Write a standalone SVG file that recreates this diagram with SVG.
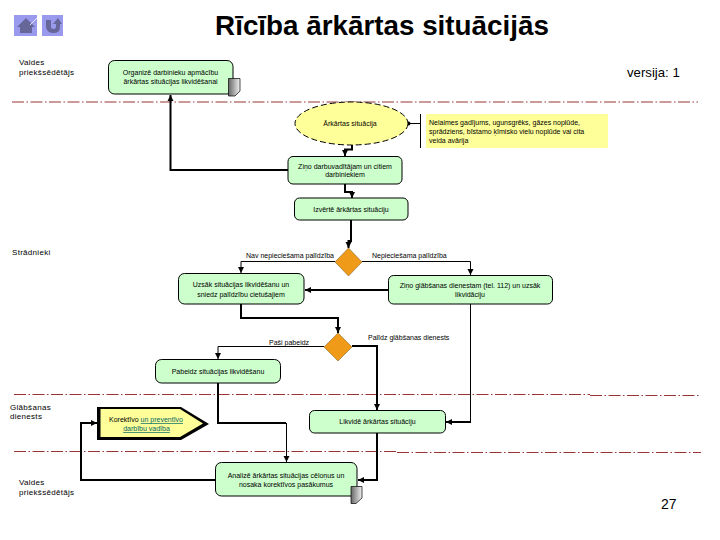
<svg xmlns="http://www.w3.org/2000/svg" width="720" height="540" viewBox="0 0 720 540">
<style>
text{font-family:"Liberation Sans",Arial,sans-serif;fill:#000}
.t{font-size:7px;text-anchor:middle}
.l{font-size:7px}
.s{font-size:8px;letter-spacing:.3px}
.box{fill:#ccffcc;stroke:#000;stroke-width:1}
.sw{fill:none;stroke:#800000;stroke-width:.8;stroke-dasharray:12 2.5 1.5 2.5}
.c1{fill:none;stroke:#000;stroke-width:1}
.c2{fill:none;stroke:#000;stroke-width:2}
.d{fill:#f09a1a;stroke:#8a6a30;stroke-width:.6}
.doc{fill:url(#g);stroke:#000;stroke-width:.7}
.link{fill:#006666;text-decoration:underline}
</style>
<defs>
<marker id="a" markerWidth="7" markerHeight="7" refX="6" refY="3.5" orient="auto" markerUnits="userSpaceOnUse"><path d="M0 .5L6 3.5L0 6.5z" fill="#000"/></marker>
<linearGradient id="g" x1="0" y1="0" x2="1" y2="0"><stop offset="0" stop-color="#666"/><stop offset="1" stop-color="#f2f2f2"/></linearGradient>
</defs>
<text x="382" y="35" font-weight="bold" text-anchor="middle" style="font-size:27.8px">Rīcība ārkārtas situācijās</text>
<g id="nav-home"><rect x="14" y="15" width="23" height="21" fill="#9999ee"/><path d="M17 27L26 18L35 27H32V33H20V27z" fill="#666699"/><path d="M30 25L37 18" stroke="#fff" stroke-width=".8"/></g>
<g id="nav-back"><rect x="42" y="15" width="21" height="21" fill="#9999ee"/><path d="M46 20H51V27Q51 29 53.500 29T56 27V24H53L58 18L62 24H60V27Q60 33 53.500 33T46 27z" fill="#666699"/></g>
<text x="627" y="77" style="font-size:13.200px">versija: 1</text>
<text x="661" y="509" style="font-size:14px">27</text>
<g id="swimlanes">
<path class="sw" d="M12 102H698"/><path class="sw" d="M14 394.500H590"/><path class="sw" d="M590 395.500H701"/><path class="sw" d="M14 451.500H397"/><path class="sw" d="M397 452.500H701"/>
</g>
<g id="lane-labels">
<text class="s" x="19" y="65">Valdes</text><text class="s" x="19" y="75">priekšsēdētājs</text>
<text class="s" x="12" y="255">Strādnieki</text>
<text class="s" x="10" y="410">Glābšanas</text><text class="s" x="10" y="419">dienests</text>
<text class="s" x="19" y="485">Valdes</text><text class="s" x="19" y="495">priekšsēdētājs</text>
</g>
<g id="connectors">
<path class="c2" d="M288 170H170.500V95" marker-end="url(#a)"/>
<path class="c2" d="M352 145V149.500H345V156" marker-end="url(#a)"/>
<path class="c2" d="M345 184V192H352V198" marker-end="url(#a)"/>
<path class="c2" d="M351 220V241H348.500V248" marker-end="url(#a)"/>
<path class="c1" d="M335 261.500H241V273" marker-end="url(#a)"/>
<path class="c1" d="M362 261.500H470.500V275" marker-end="url(#a)"/>
<path class="c2" d="M388 290H305" marker-end="url(#a)"/>
<path class="c2" d="M241 304V318H338V333" marker-end="url(#a)"/>
<path class="c1" d="M324 346.500H218V359" marker-end="url(#a)"/>
<path class="c2" d="M352 346H377V410" marker-end="url(#a)"/>
<path class="c1" d="M470.500 304V422"/>
<path class="c2" d="M471 422H446" marker-end="url(#a)"/>
<path class="c2" d="M218 383V423H286"/>
<path class="c1" d="M286.500 423V462" marker-end="url(#a)"/>
<path class="c2" d="M377 433V480H358" marker-end="url(#a)"/>
<path class="c2" d="M216 480H81V423H97" marker-end="url(#a)"/>
<path class="c1" d="M408 123.500H420.500M420.500 114V148"/>
<circle cx="408.500" cy="123.500" r="2"/>
</g>
<g id="n1"><rect class="box" x="108.500" y="60.500" width="124.500" height="33.500" rx="6"/><text class="t" x="170.500" y="75">Organizē darbinieku apmācību</text><text class="t" x="170.500" y="84">ārkārtas situācijas likvidēšanai</text><path class="doc" d="M228.500 78.500H240V91L235 96H228.500z"/></g>
<g id="n2"><ellipse cx="351.500" cy="123.500" rx="56.500" ry="21.500" fill="#ffff99" stroke="#000" stroke-dasharray="6 3"/><text class="t" x="350" y="126">Ārkārtas situācija</text></g>
<g id="n3"><rect x="426" y="114" width="182" height="34" fill="#ffff99"/><text class="l" x="429" y="125">Nelaimes gadījums, ugunsgrēks, gāzes noplūde,</text><text class="l" x="429" y="134">sprādziens, bīstamo ķīmisko vielu noplūde vai cita</text><text class="l" x="429" y="142.500">veida avārija</text></g>
<g id="n4"><rect class="box" x="288" y="156.500" width="114" height="27.500" rx="5"/><text class="t" x="345" y="169">Ziņo darbuvadītājam un citiem</text><text class="t" x="345" y="177">darbiniekiem</text></g>
<g id="n5"><rect class="box" x="294.500" y="198" width="113.500" height="22" rx="5"/><text class="t" x="351" y="211.500">Izvērtē ārkārtas situāciju</text></g>
<text class="l" x="246" y="258">Nav nepieciešama palīdzība</text>
<g id="d1"><path class="d" d="M348.500 248L362 262L348.500 276L335 262z"/></g>
<text class="l" x="372" y="258">Nepieciešama palīdzība</text>
<g id="n6"><rect class="box" x="178.500" y="273.500" width="125.500" height="30.500" rx="6"/><text class="t" x="241" y="287">Uzsāk situācijas likvidēšanu un</text><text class="t" x="241" y="296.500">sniedz palīdzību cietušajiem</text></g>
<g id="n7"><rect class="box" x="388.500" y="275.500" width="164" height="28.500" rx="5"/><text class="t" x="470" y="288">Ziņo glābšanas dienestam (tel. 112) un uzsāk</text><text class="t" x="470" y="297">likvidāciju</text></g>
<text class="l" x="269" y="345">Paši pabeidz</text>
<g id="d2"><path class="d" d="M338 333L352 347L338 361L324 347z"/></g>
<text class="l" x="368" y="340">Palīdz glābšanas dienests</text>
<g id="n8"><rect class="box" x="155.500" y="359.500" width="125" height="23.500" rx="6"/><text class="t" x="218" y="374">Pabeidz situācijas likvidēšanu</text></g>
<g id="n9"><path d="M97 407H181L209 424L181 440H97z" fill="#000"/><path d="M100.500 409H180L203 423.500L180 437H100.500z" fill="#ffff99"/><text class="t" x="146" y="422">Korektīvo <tspan class="link">un preventīvo</tspan></text><text class="t link" x="146.500" y="431">darbību vadība</text></g>
<g id="n10"><rect class="box" x="309.500" y="410.500" width="136" height="22.500" rx="5"/><text class="t" x="377.500" y="423.500">Likvidē ārkārtas situāciju</text></g>
<g id="n11"><rect class="box" x="215.500" y="462.500" width="141.500" height="33.500" rx="6"/><text class="t" x="286" y="478">Analizē ārkārtas situācijas cēloņus un</text><text class="t" x="286" y="487">nosaka korektīvos pasākumus</text><path class="doc" d="M351 486.500H362V498L356 503.500H351z"/></g>
</svg>
